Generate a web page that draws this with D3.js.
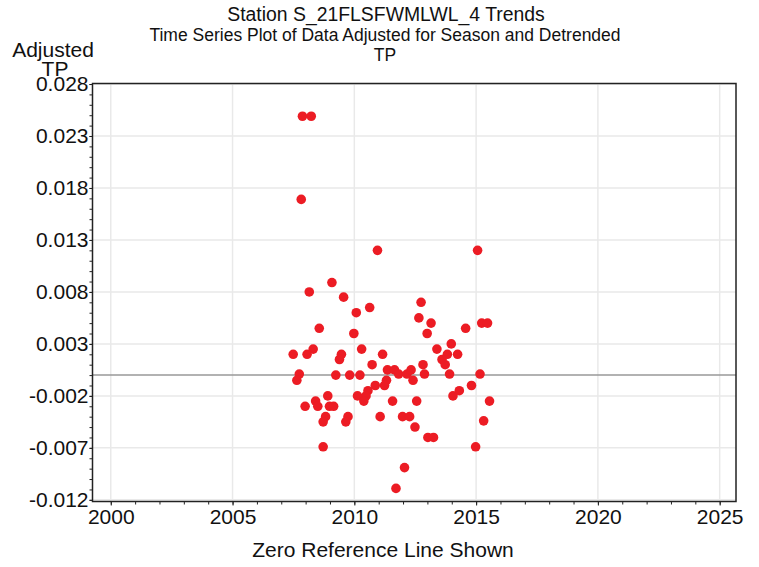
<!DOCTYPE html>
<html>
<head>
<meta charset="utf-8">
<script src="https://cdn.jsdelivr.net/npm/d3@7"></script>
<style>
  body { margin: 0; background: #fff; }
  text { font-family: "Liberation Sans", Arial, sans-serif; fill: #111; }
</style>
</head>
<body>
<div id="chart"></div>
<script>
// decimal year of each sample
var years = [
  2007.87, 2008.23, 2007.82, 2010.95, 2015.06, 2009.08, 2008.15, 2009.56, 2012.74, 2010.63,
  2010.08, 2012.65, 2013.15, 2008.56, 2014.57, 2015.23, 2015.47, 2009.98, 2012.99, 2013.98,
  2010.30, 2013.39, 2008.31, 2007.49, 2008.06, 2009.47, 2011.16, 2013.82, 2014.24, 2009.39,
  2013.60, 2013.73, 2010.73, 2012.82, 2007.74, 2007.64, 2009.24, 2009.81, 2010.23, 2011.36,
  2011.65, 2011.82, 2012.16, 2012.33, 2012.41, 2012.88, 2013.91, 2015.16, 2011.32, 2011.24,
  2010.86, 2010.56, 2010.48, 2010.13, 2010.39, 2008.91, 2008.41, 2008.50, 2007.98, 2008.98,
  2009.15, 2011.57, 2012.56, 2014.05, 2014.31, 2014.81, 2015.55, 2008.82, 2008.72, 2009.74,
  2009.65, 2011.06, 2011.98, 2012.27, 2012.49, 2013.02, 2013.25, 2015.31, 2008.72, 2014.98,
  2012.06, 2011.71
];
// adjusted, detrended TP
var values = [
  0.0249, 0.0249, 0.0169, 0.0120, 0.0120, 0.0089, 0.0080, 0.0075, 0.0070, 0.0065,
  0.0060, 0.0055, 0.0050, 0.0045, 0.0045, 0.0050, 0.0050, 0.0040, 0.0040, 0.0030,
  0.0025, 0.0025, 0.0025, 0.0020, 0.0020, 0.0020, 0.0020, 0.0020, 0.0020, 0.0015,
  0.0015, 0.0010, 0.0010, 0.0010, 0.0001, -0.0005, 0.0000, 0.0000, 0.0000, 0.0005,
  0.0005, 0.0001, 0.0001, 0.0005, -0.0005, 0.0001, 0.0001, 0.0001, -0.0005, -0.0010,
  -0.0010, -0.0015, -0.0020, -0.0020, -0.0025, -0.0020, -0.0025, -0.0030, -0.0030, -0.0030,
  -0.0030, -0.0025, -0.0025, -0.0020, -0.0015, -0.0010, -0.0025, -0.0040, -0.0045, -0.0040,
  -0.0045, -0.0040, -0.0040, -0.0040, -0.0050, -0.0060, -0.0060, -0.0044, -0.0069, -0.0069,
  -0.0089, -0.0109
];
var yTicks = [-0.012, -0.007, -0.002, 0.003, 0.008, 0.013, 0.018, 0.023, 0.028];
var xTicks = [2000, 2005, 2010, 2015, 2020, 2025];

var W = 759, H = 567;
var m = {left: 92.5, right: 23, top: 83.5, bottom: 65.5};

var svg = d3.select('#chart').append('svg')
    .attr('width', W)
    .attr('height', H);

var x = d3.scaleLinear().domain([1999.25, 2025.67]).range([m.left, W - m.right]);
var y = d3.scaleLinear().domain([-0.01216, 0.02805]).range([H - m.bottom, m.top]);

var pw = W - m.left - m.right, ph = H - m.top - m.bottom;

// grid
var grid = svg.append('g');
grid.selectAll('line.gx').data(xTicks).enter().append('line')
    .attr('x1', function(d) { return x(d); }).attr('x2', function(d) { return x(d); })
    .attr('y1', m.top).attr('y2', H - m.bottom)
    .attr('stroke', '#e9e9e9').attr('stroke-width', 1.5);
grid.selectAll('line.gy').data(yTicks).enter().append('line')
    .attr('y1', function(d) { return y(d); }).attr('y2', function(d) { return y(d); })
    .attr('x1', m.left).attr('x2', W - m.right)
    .attr('stroke', '#e9e9e9').attr('stroke-width', 1.5);

// zero reference line
svg.append('line')
    .attr('x1', m.left).attr('x2', W - m.right)
    .attr('y1', y(0)).attr('y2', y(0))
    .attr('stroke', '#999').attr('stroke-width', 1.5);

// points
svg.append('g').selectAll('circle')
    .data(years)
    .enter()
    .append('circle')
    .attr('cx', function(d) { return x(d); })
    .attr('cy', function(d, i) { return y(values[i]); })
    .attr('r', 4.8)
    .attr('fill', '#ec1c24');

// frame
svg.append('rect')
    .attr('x', m.left).attr('y', m.top)
    .attr('width', pw).attr('height', ph)
    .attr('fill', 'none').attr('stroke', '#222').attr('stroke-width', 1.5);

// axes
var fmt = d3.format('.3f');
var xAxis = d3.axisBottom(x).tickValues(xTicks).tickFormat(d3.format('d')).tickSize(4).tickPadding(4);
var xMinor = d3.axisBottom(x).tickValues(d3.range(2000, 2026)).tickFormat('').tickSize(3);
var yAxis = d3.axisLeft(y).tickValues(yTicks)
    .tickFormat(function(d) { return fmt(d).replace('\u2212', '-'); })
    .tickSize(3).tickPadding(1);
var yMinor = d3.axisLeft(y).tickValues(d3.range(-12, 29).map(function(d) { return d / 1000; })).tickFormat('').tickSize(3);

[xMinor, xAxis].forEach(function(a) {
  svg.append('g').attr('transform', 'translate(0,' + (H - m.bottom) + ')').call(a);
});
[yMinor, yAxis].forEach(function(a) {
  svg.append('g').attr('transform', 'translate(' + m.left + ',0)').call(a);
});
svg.selectAll('.domain').remove();
svg.selectAll('.tick line').attr('stroke', '#222');
svg.selectAll('.tick text').style('font-size', '21px').attr('fill', '#111');

// titles
svg.append('text').attr('x', 386).attr('y', 21).attr('text-anchor', 'middle')
    .style('font-size', '19.4px').text('Station S_21FLSFWMLWL_4 Trends');
svg.append('text').attr('x', 385).attr('y', 41).attr('text-anchor', 'middle')
    .style('font-size', '17.5px').text('Time Series Plot of Data Adjusted for Season and Detrended');
svg.append('text').attr('x', 385).attr('y', 61).attr('text-anchor', 'middle')
    .style('font-size', '17.5px').text('TP');
svg.append('text').attr('x', 53).attr('y', 57).attr('text-anchor', 'middle')
    .style('font-size', '21px').text('Adjusted');
svg.append('text').attr('x', 55).attr('y', 76).attr('text-anchor', 'middle')
    .style('font-size', '21px').text('TP');
svg.append('text').attr('x', 383).attr('y', 557).attr('text-anchor', 'middle')
    .style('font-size', '21px').text('Zero Reference Line Shown');
</script>
</body>
</html>
